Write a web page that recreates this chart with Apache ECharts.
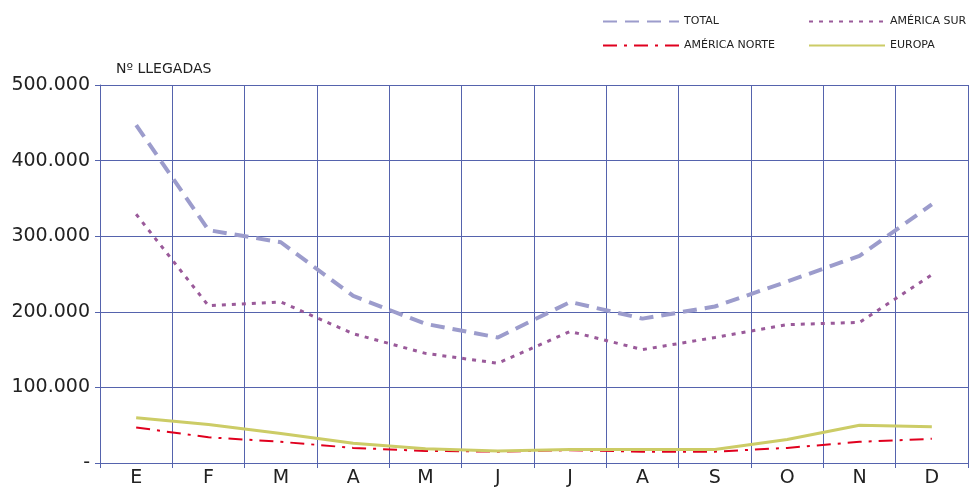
<!DOCTYPE html>
<html>
<head>
<meta charset="utf-8">
<script src="https://cdn.jsdelivr.net/npm/echarts@6/dist/echarts.min.js"></script>
<style>
  html, body { margin: 0; padding: 0; background: #fff; }
  #chart { width: 974px; height: 488px; }
</style>
</head>
<body>
<div id="chart"></div>
<script>
// months (initials)
var months = ['E', 'F', 'M', 'A', 'M', 'J', 'J', 'A', 'S', 'O', 'N', 'D'];

// arrivals per month
var total = [447000, 308000, 292000, 221000, 184000, 166000, 213000, 191000, 207000, 240000, 274000, 342000];
var americaSur = [329000, 208000, 213000, 171000, 145000, 132000, 174000, 150000, 166000, 183000, 186000, 249000];
var americaNorte = [47000, 34000, 28000, 20000, 16000, 15000, 17000, 15000, 15000, 20000, 28000, 32000];
var europa = [60000, 51000, 39000, 26000, 19000, 16000, 18000, 18000, 18000, 31000, 50000, 48000];

var gridColor = '#5563ad';
var font = 'DejaVu Sans';

function fmt(v) {
    if (v === 0) return '-';
    return String(v).replace(/\B(?=(\d{3})+(?!\d))/g, '.');
}

var myChart = echarts.init(document.getElementById('chart'));

var option = {
    backgroundColor: '#fff',
    animation: false,
    grid: { left: 100, right: 6, top: 85, bottom: 23, containLabel: false },
    // two legend columns, top right
    legend: [{
        orient: 'vertical',
        left: 597, top: 11,
        itemWidth: 76, itemHeight: 10, itemGap: 13,
        itemStyle: { opacity: 0 },
        textStyle: { fontFamily: font, fontSize: 11, color: '#222' },
        data: ['TOTAL', 'AMÉRICA NORTE']
    }, {
        orient: 'vertical',
        left: 803, top: 11,
        itemWidth: 76, itemHeight: 10, itemGap: 13,
        itemStyle: { opacity: 0 },
        textStyle: { fontFamily: font, fontSize: 11, color: '#222' },
        data: ['AMÉRICA SUR', 'EUROPA']
    }],
    xAxis: {
        type: 'category',
        data: months,
        boundaryGap: true,
        axisLine: { lineStyle: { color: gridColor, width: 1 } },
        axisTick: { show: true, length: 5, lineStyle: { color: gridColor } },
        axisLabel: { fontFamily: font, fontSize: 19, color: '#222', margin: 6 },
        splitLine: { show: true, lineStyle: { color: gridColor, width: 1 } }
    },
    yAxis: {
        type: 'value',
        min: 0, max: 500000, interval: 100000,
        name: 'Nº LLEGADAS',
        nameLocation: 'end',
        nameGap: 9,
        nameTextStyle: { fontFamily: font, fontSize: 14, color: '#222', align: 'left', padding: [0, 0, 0, 16] },
        axisLine: { show: true, lineStyle: { color: gridColor, width: 1 } },
        axisTick: { show: true, length: 5, lineStyle: { color: gridColor } },
        axisLabel: { fontFamily: font, fontSize: 19, color: '#222', margin: 10, formatter: fmt },
        splitLine: { show: true, lineStyle: { color: gridColor, width: 1 } }
    },
    series: [{
        name: 'TOTAL',
        type: 'line',
        data: total,
        symbol: 'none',
        color: '#9c9ccc',
        lineStyle: { color: '#9c9ccc', width: 4, type: [14, 8] }
    }, {
        name: 'AMÉRICA SUR',
        type: 'line',
        data: americaSur,
        symbol: 'none',
        color: '#9a5a9a',
        lineStyle: { color: '#9a5a9a', width: 3, type: [4, 6] }
    }, {
        name: 'AMÉRICA NORTE',
        type: 'line',
        data: americaNorte,
        symbol: 'none',
        color: '#e0001e',
        lineStyle: { color: '#e0001e', width: 2, type: [14, 7, 3, 7] }
    }, {
        name: 'EUROPA',
        type: 'line',
        data: europa,
        symbol: 'none',
        color: '#cccc66',
        lineStyle: { color: '#cccc66', width: 3 }
    }]
};

myChart.setOption(option);
</script>
</body>
</html>
